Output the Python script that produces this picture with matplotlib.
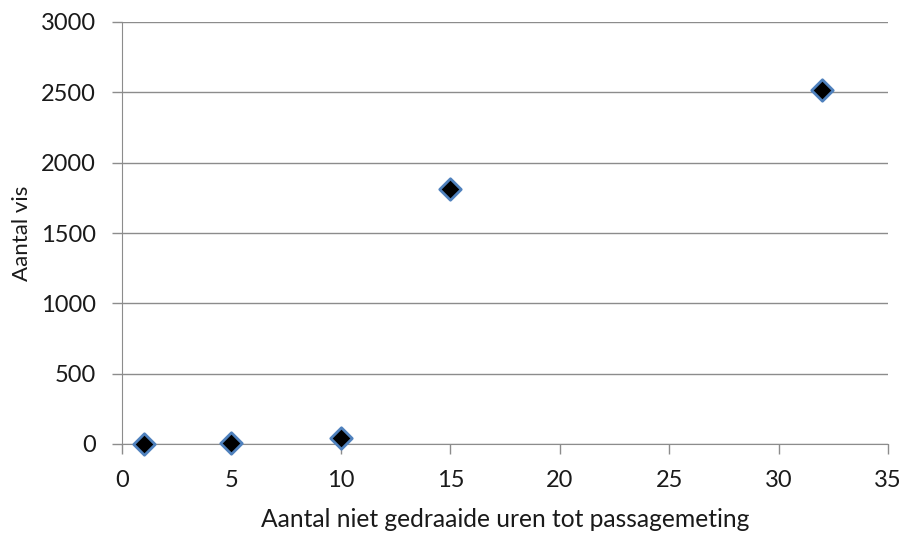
import matplotlib.pyplot as plt

uren = [1, 5, 10, 15, 32]
vis = [3, 5, 40, 1815, 2520]

plt.rcParams['font.family'] = ['Lato', 'DejaVu Sans']

fig = plt.figure(figsize=(9.04, 5.33), dpi=100)
ax = fig.add_axes([122 / 904, 1 - 444 / 533, 766 / 904, 422 / 533])

ax.scatter(uren, vis, marker='D', s=120, facecolor='black',
           edgecolor='#4f81bd', linewidth=2, zorder=3, clip_on=False)

ax.set_xlim(0, 35)
ax.set_ylim(0, 3000)
ax.set_xticks(range(0, 36, 5))
ax.set_yticks(range(0, 3001, 500))
ax.yaxis.grid(True, color='#8c8c8c', linewidth=1)
ax.set_axisbelow(True)

for side in ['top', 'right']:
    ax.spines[side].set_visible(False)
for side in ['left', 'bottom']:
    ax.spines[side].set_color('#8c8c8c')
ax.tick_params(axis='both', colors='#8c8c8c', labelcolor='#1a1a1a',
               labelsize=17, length=7, width=1)
ax.tick_params(axis='x', pad=12)
ax.tick_params(axis='y', pad=12)

ax.set_xlabel('Aantal niet gedraaide uren tot passagemeting', fontsize=17.7,
              color='#1a1a1a', labelpad=12)
ax.set_ylabel('Aantal vis', fontsize=16, color='#1a1a1a', labelpad=6)

fig.savefig('out.png', dpi=100)
